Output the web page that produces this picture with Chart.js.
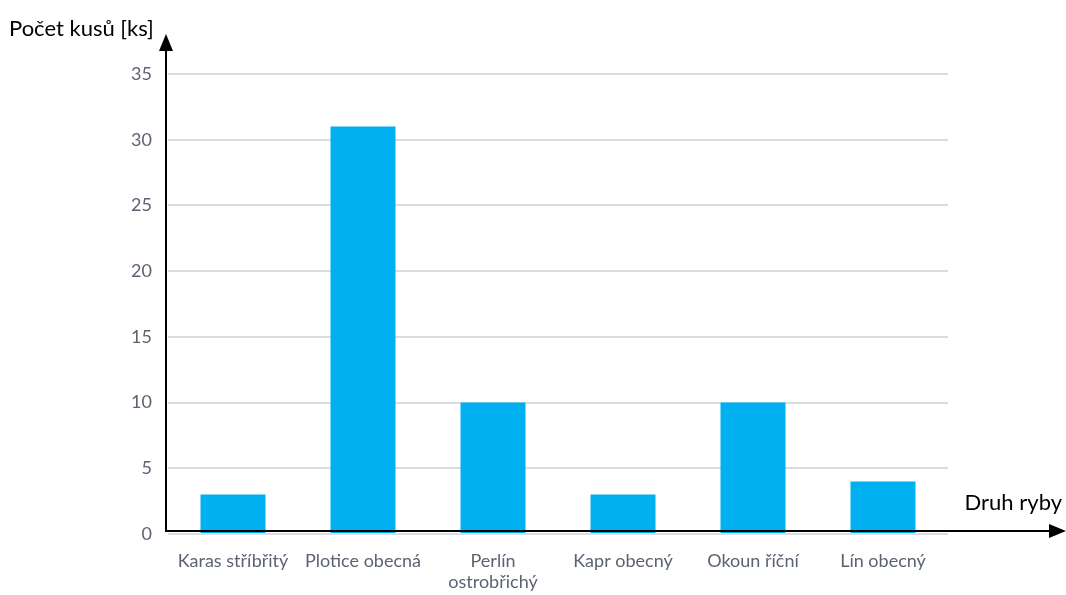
<!DOCTYPE html>
<html lang="cs">
<head>
<meta charset="UTF-8">
<title>Počet kusů podle druhu ryby</title>
<script src="https://cdn.jsdelivr.net/npm/chart.js"></script>
<style>
  html, body { margin: 0; padding: 0; background: #fff; }
  #wrap { width: 1066px; height: 595px; }
</style>
</head>
<body>
<div id="wrap"><canvas id="fishChart" width="1066" height="595"></canvas></div>
<script>
// catch counts per species
const species = ['Karas stříbřitý', 'Plotice obecná', ['Perlín', 'ostrobřichý'], 'Kapr obecný', 'Okoun říční', 'Lín obecný'];
const counts = [3, 31, 10, 3, 10, 4];
const yTitle = 'Počet kusů [ks]';
const xTitle = 'Druh ryby';

// black arrowed axes and the two axis captions
const arrowAxes = {
  id: 'arrowAxes',
  afterDraw(chart) {
    const { ctx, chartArea } = chart;
    const x0 = chartArea.left - 2;
    const y0 = chartArea.bottom - 3;
    ctx.save();
    ctx.strokeStyle = '#000';
    ctx.fillStyle = '#000';
    ctx.lineWidth = 2;
    ctx.beginPath();
    ctx.moveTo(x0 - 1, y0);
    ctx.lineTo(1052, y0);
    ctx.moveTo(x0, y0 + 1);
    ctx.lineTo(x0, 48);
    ctx.stroke();
    // arrow heads
    ctx.beginPath();
    ctx.moveTo(1066, y0);
    ctx.lineTo(1049, y0 - 7);
    ctx.lineTo(1049, y0 + 7);
    ctx.closePath();
    ctx.fill();
    ctx.beginPath();
    ctx.moveTo(x0, 34);
    ctx.lineTo(x0 - 7, 51);
    ctx.lineTo(x0 + 7, 51);
    ctx.closePath();
    ctx.fill();
    ctx.font = '22px Lato, "Open Sans", sans-serif';
    ctx.textBaseline = 'middle';
    ctx.textAlign = 'left';
    ctx.fillText(yTitle, 9, 29);
    ctx.textAlign = 'right';
    ctx.fillText(xTitle, 1062, 503);
    ctx.restore();
  }
};

new Chart(document.getElementById('fishChart'), {
  type: 'bar',
  data: {
    labels: species,
    datasets: [{
      data: counts,
      backgroundColor: '#00b0f0',
      borderWidth: 0,
      categoryPercentage: 1,
      barPercentage: 0.5
    }]
  },
  options: {
    responsive: false,
    animation: false,
    layout: { padding: { top: 74, right: 118, bottom: 0, left: 0 } },
    plugins: { legend: { display: false }, tooltip: { enabled: false } },
    scales: {
      x: {
        grid: { display: false },
        border: { display: false },
        ticks: {
          color: '#5b6373',
          font: { family: 'Lato, "Open Sans", sans-serif', size: 18 },
          padding: 8,
          maxRotation: 0,
          autoSkip: false
        },
        afterFit(scale) { scale.height = 61; }
      },
      y: {
        min: 0,
        max: 35,
        grid: { color: '#d9dde3', lineWidth: 2, drawTicks: false },
        border: { display: false },
        ticks: {
          stepSize: 5,
          color: '#5b6373',
          font: { family: 'Lato, "Open Sans", sans-serif', size: 18 },
          padding: 16
        },
        afterFit(scale) { scale.width = 168; }
      }
    }
  },
  plugins: [arrowAxes]
});
</script>
</body>
</html>
